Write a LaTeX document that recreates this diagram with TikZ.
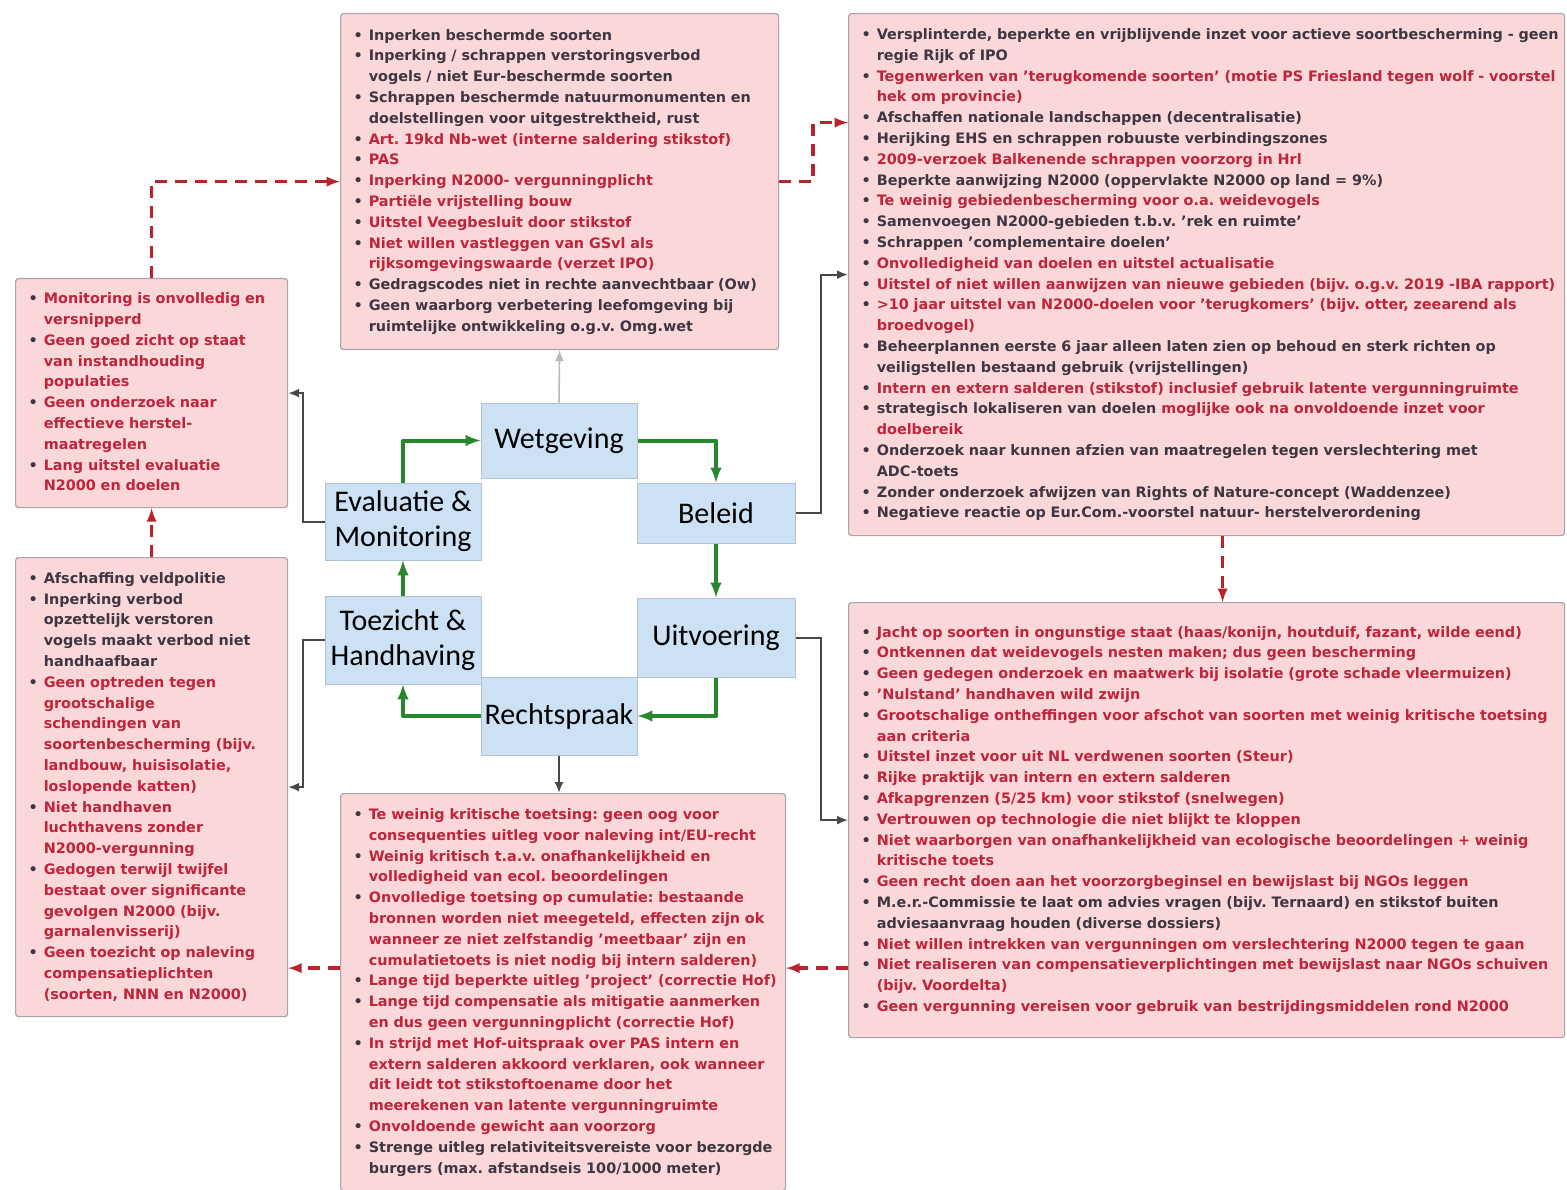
\documentclass[tikz,border=0pt]{standalone}
\usepackage{fontspec}
\setmainfont{DejaVu Sans}
\newfontfamily\stagefont{Carlito}
\usetikzlibrary{arrows, arrows.meta}

\definecolor{boxfill}{RGB}{250,216,218}
\definecolor{boxline}{RGB}{168,164,168}
\definecolor{stagefill}{RGB}{205,225,245}
\definecolor{stageline}{RGB}{178,194,214}
\definecolor{flowgreen}{RGB}{38,135,45}
\definecolor{linkgray}{RGB}{70,70,75}
\definecolor{riskred}{RGB}{185,35,45}
\definecolor{txtdark}{RGB}{62,54,66}
\definecolor{txtred}{RGB}{192,36,58}

\frenchspacing
\newcommand{\boxfont}{\fontsize{14.4}{20.8}\selectfont\bfseries}
\newcommand{\itemdark}[1]{\textcolor{txtdark}{\textbullet}&\color{txtdark}#1\\}
\newcommand{\itemred}[1]{\textcolor{txtdark}{\textbullet}&\color{txtred}#1\\}
\newcommand{\contdark}[1]{&\color{txtdark}#1\\}
\newcommand{\contred}[1]{&\color{txtred}#1\\}
\newenvironment{bullets}{\begin{tabular}{@{}l@{\hspace{6pt}}l@{}}}{\end{tabular}}

\begin{document}
\begin{tikzpicture}[x=1pt, y=-1pt,
  riskbox/.style={draw=boxline, fill=boxfill, line width=1.2pt, rounded corners=3pt, anchor=north west, inner xsep=13pt, inner ysep=0pt, font=\boxfont},
  stage/.style={draw=stageline, fill=stagefill, line width=1pt, inner sep=0pt, align=center, font=\stagefont\fontsize{30}{35}\selectfont},
  flow/.style={->, >=latex, draw=flowgreen, line width=4pt, line join=round},
  link/.style={->, >={Latex[length=11pt, width=9pt]}, draw=linkgray, line width=2pt},
  risk/.style={->, >=latex, draw=riskred, line width=3.5pt, dash pattern=on 12pt off 8pt}]
\path[fill=white, use as bounding box] (0,0) rectangle (1567,1190);

\node[riskbox, text width=412pt, minimum height=336pt] (boxWet) at (340,13) {\begin{bullets}
\itemdark{Inperken beschermde soorten}
\itemdark{Inperking / schrappen verstoringsverbod}
\contdark{vogels / niet Eur-beschermde soorten}
\itemdark{Schrappen beschermde natuurmonumenten en}
\contdark{doelstellingen voor uitgestrektheid, rust}
\itemred{Art. 19kd Nb-wet (interne saldering stikstof)}
\itemred{PAS}
\itemred{Inperking N2000- vergunningplicht}
\itemred{Partiële vrijstelling bouw}
\itemred{Uitstel Veegbesluit door stikstof}
\itemred{Niet willen vastleggen van GSvl als}
\contred{rijksomgevingswaarde (verzet IPO)}
\itemdark{Gedragscodes niet in rechte aanvechtbaar (Ow)}
\itemdark{Geen waarborg verbetering leefomgeving bij}
\contdark{ruimtelijke ontwikkeling o.g.v. Omg.wet}
\end{bullets}};

\node[riskbox, text width=690pt, minimum height=522pt] (boxBel) at (848,13) {\begin{bullets}
\itemdark{Versplinterde, beperkte en vrijblijvende inzet voor actieve soortbescherming - geen}
\contdark{regie Rijk of IPO}
\itemred{Tegenwerken van 'terugkomende soorten' (motie PS Friesland tegen wolf - voorstel}
\contred{hek om provincie)}
\itemdark{Afschaffen nationale landschappen (decentralisatie)}
\itemdark{Herijking EHS en schrappen robuuste verbindingszones}
\itemred{2009-verzoek Balkenende schrappen voorzorg in Hrl}
\itemdark{Beperkte aanwijzing N2000 (oppervlakte N2000 op land = 9\%)}
\itemred{Te weinig gebiedenbescherming voor o.a. weidevogels}
\itemdark{Samenvoegen N2000-gebieden t.b.v. 'rek en ruimte'}
\itemdark{Schrappen 'complementaire doelen'}
\itemred{Onvolledigheid van doelen en uitstel actualisatie}
\itemred{Uitstel of niet willen aanwijzen van nieuwe gebieden (bijv. o.g.v. 2019 -IBA rapport)}
\itemred{>10 jaar uitstel van N2000-doelen voor 'terugkomers' (bijv. otter, zeearend als}
\contred{broedvogel)}
\itemdark{Beheerplannen eerste 6 jaar alleen laten zien op behoud en sterk richten op}
\contdark{veiligstellen bestaand gebruik (vrijstellingen)}
\itemred{Intern en extern salderen (stikstof) inclusief gebruik latente vergunningruimte}
\itemdark{strategisch lokaliseren van doelen \textcolor{txtred}{moglijke ook na onvoldoende inzet voor}}
\contred{doelbereik}
\itemdark{Onderzoek naar kunnen afzien van maatregelen tegen verslechtering met}
\contdark{ADC-toets}
\itemdark{Zonder onderzoek afwijzen van Rights of Nature-concept (Waddenzee)}
\itemdark{Negatieve reactie op Eur.Com.-voorstel natuur- herstelverordening}
\end{bullets}};

\node[riskbox, text width=246pt, minimum height=229pt] (boxEva) at (15,278) {\begin{bullets}
\itemred{Monitoring is onvolledig en}
\contred{versnipperd}
\itemred{Geen goed zicht op staat}
\contred{van instandhouding}
\contred{populaties}
\itemred{Geen onderzoek naar}
\contred{effectieve herstel-}
\contred{maatregelen}
\itemred{Lang uitstel evaluatie}
\contred{N2000 en doelen}
\end{bullets}};

\node[riskbox, text width=246pt, minimum height=459pt] (boxToe) at (15,557) {\begin{bullets}
\itemdark{Afschaffing veldpolitie}
\itemdark{Inperking verbod}
\contdark{opzettelijk verstoren}
\contdark{vogels maakt verbod niet}
\contdark{handhaafbaar}
\itemred{Geen optreden tegen}
\contred{grootschalige}
\contred{schendingen van}
\contred{soortenbescherming (bijv.}
\contred{landbouw, huisisolatie,}
\contred{loslopende katten)}
\itemred{Niet handhaven}
\contred{luchthavens zonder}
\contred{N2000-vergunning}
\itemred{Gedogen terwijl twijfel}
\contred{bestaat over significante}
\contred{gevolgen N2000 (bijv.}
\contred{garnalenvisserij)}
\itemred{Geen toezicht op naleving}
\contred{compensatieplichten}
\contred{(soorten, NNN en N2000)}
\end{bullets}};

\node[riskbox, text width=419pt, minimum height=397pt] (boxRec) at (340,793) {\begin{bullets}
\itemred{Te weinig kritische toetsing: geen oog voor}
\contred{consequenties uitleg voor naleving int/EU-recht}
\itemred{Weinig kritisch t.a.v. onafhankelijkheid en}
\contred{volledigheid van ecol. beoordelingen}
\itemred{Onvolledige toetsing op cumulatie: bestaande}
\contred{bronnen worden niet meegeteld, effecten zijn ok}
\contred{wanneer ze niet zelfstandig 'meetbaar' zijn en}
\contred{cumulatietoets is niet nodig bij intern salderen)}
\itemred{Lange tijd beperkte uitleg 'project' (correctie Hof)}
\itemred{Lange tijd compensatie als mitigatie aanmerken}
\contred{en dus geen vergunningplicht (correctie Hof)}
\itemred{In strijd met Hof-uitspraak over PAS intern en}
\contred{extern salderen akkoord verklaren, ook wanneer}
\contred{dit leidt tot stikstoftoename door het}
\contred{meerekenen van latente vergunningruimte}
\itemred{Onvoldoende gewicht aan voorzorg}
\itemdark{Strenge uitleg relativiteitsvereiste voor bezorgde}
\contdark{burgers (max. afstandseis 100/1000 meter)}
\end{bullets}};

\node[riskbox, text width=690pt, minimum height=435pt] (boxUit) at (848,602) {\begin{bullets}
\itemred{Jacht op soorten in ongunstige staat (haas/konijn, houtduif, fazant, wilde eend)}
\itemred{Ontkennen dat weidevogels nesten maken; dus geen bescherming}
\itemred{Geen gedegen onderzoek en maatwerk bij isolatie (grote schade vleermuizen)}
\itemred{'Nulstand' handhaven wild zwijn}
\itemred{Grootschalige ontheffingen voor afschot van soorten met weinig kritische toetsing}
\contred{aan criteria}
\itemred{Uitstel inzet voor uit NL verdwenen soorten (Steur)}
\itemred{Rijke praktijk van intern en extern salderen}
\itemred{Afkapgrenzen (5/25 km) voor stikstof (snelwegen)}
\itemred{Vertrouwen op technologie die niet blijkt te kloppen}
\itemred{Niet waarborgen van onafhankelijkheid van ecologische beoordelingen + weinig}
\contred{kritische toets}
\itemred{Geen recht doen aan het voorzorgbeginsel en bewijslast bij NGOs leggen}
\itemdark{M.e.r.-Commissie te laat om advies vragen (bijv. Ternaard) en stikstof buiten}
\contdark{adviesaanvraag houden (diverse dossiers)}
\itemred{Niet willen intrekken van vergunningen om verslechtering N2000 tegen te gaan}
\itemred{Niet realiseren van compensatieverplichtingen met bewijslast naar NGOs schuiven}
\contred{(bijv. Voordelta)}
\itemred{Geen vergunning vereisen voor gebruik van bestrijdingsmiddelen rond N2000}
\end{bullets}};

\node[stage, minimum width=156pt, minimum height=75pt] (wet) at (559,440.5) {Wetgeving};
\node[stage, minimum width=158pt, minimum height=60pt] (bel) at (716,513) {Beleid};
\node[stage, minimum width=158pt, minimum height=79pt] (uit) at (716,637.5) {Uitvoering};
\node[stage, minimum width=156pt, minimum height=78pt] (rec) at (559,716) {Rechtspraak};
\node[stage, minimum width=156pt, minimum height=88pt] (toe) at (403,640) {Toezicht \&\\Handhaving};
\node[stage, minimum width=156pt, minimum height=77pt] (eva) at (403,521.5) {Evaluatie \&\\Monitoring};

\draw[flow] (eva.north) |- (wet.west);
\draw[flow] (wet.east) -| (bel.north);
\draw[flow] (bel.south) -- (uit.north);
\draw[flow] (uit.south) |- (rec.east);
\draw[flow] (rec.west) -| (toe.south);
\draw[flow] (toe.north) -- (eva.south);

\draw[link, draw=gray!55, line width=1.6pt] (wet.north) -- (boxWet.south);
\draw[link] (rec.south) -- (rec.south |- boxRec.north);
\draw[link] (bel.east) -- ++(25,0) |- (boxBel.west);
\draw[link] (uit.east) -- ++(25,0) |- (boxUit.west);
\draw[link] (eva.west) -- ++(-22,0) |- (boxEva.east);
\draw[link] (toe.west) -- ++(-22,0) |- (boxToe.east);

\coordinate (uitL) at ([yshift=-148pt]boxUit.west);
\draw[risk] (boxEva.north) |- (boxWet.west);
\draw[risk] (boxWet.east) -- ++(34,0) |- ([yshift=152pt]boxBel.west);
\draw[risk] ([xshift=16pt]boxBel.south) -- ([xshift=16pt]boxUit.north);
\draw[risk] (uitL) -- (uitL -| boxRec.east);
\draw[risk] (uitL -| boxRec.west) -- (uitL -| boxToe.east);
\draw[risk] (boxToe.north) -- (boxEva.south);
\end{tikzpicture}
\end{document}
